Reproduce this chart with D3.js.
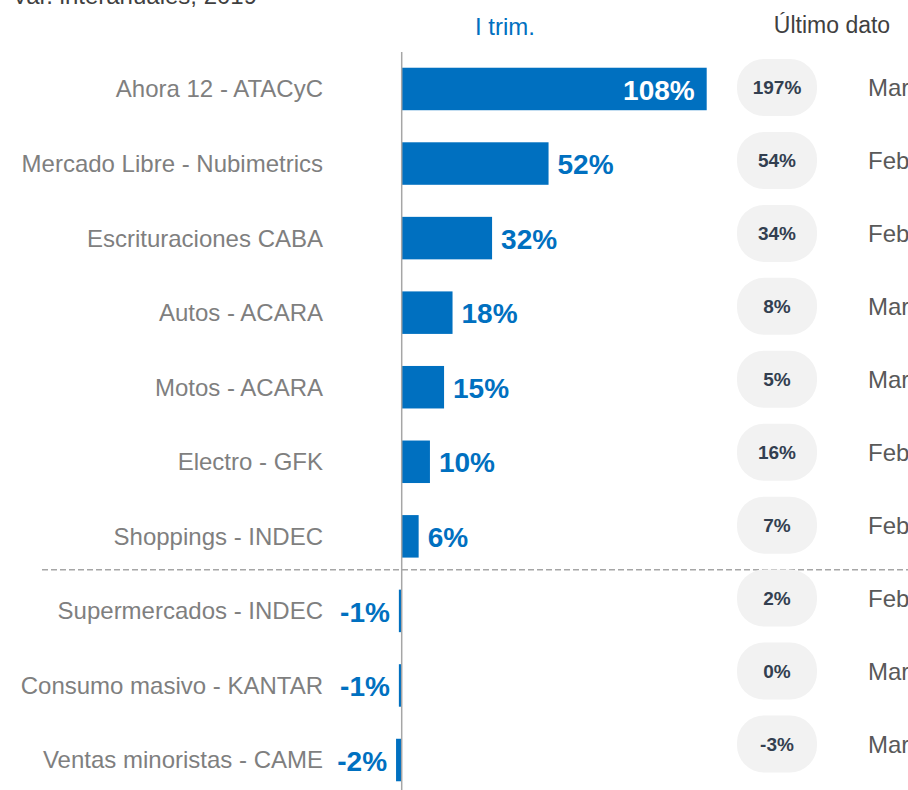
<!DOCTYPE html>
<meta charset="utf-8">
<script src="https://d3js.org/d3.v7.min.js"></script>
<style>
  body { margin: 0; background: #fff; }
  svg text { font-family: "Liberation Sans", Arial, sans-serif; }
</style>
<body>
<div id="chart"></div>
<script>
// data
var categories = [
  "Ahora 12 - ATACyC",
  "Mercado Libre - Nubimetrics",
  "Escrituraciones CABA",
  "Autos - ACARA",
  "Motos - ACARA",
  "Electro - GFK",
  "Shoppings - INDEC",
  "Supermercados - INDEC",
  "Consumo masivo - KANTAR",
  "Ventas minoristas - CAME"
];
var quarterValues = [108, 52, 32, 18, 15, 10, 6, -1, -1, -2];
var lastValues = [197, 54, 34, 8, 5, 16, 7, 2, 0, -3];
var lastMonths = ["Mar", "Feb", "Feb", "Mar", "Mar", "Feb", "Feb", "Feb", "Mar", "Mar"];

var width = 908, height = 790;
var blue = "#0070c0";

var svg = d3.select("#chart").append("svg")
  .attr("width", width)
  .attr("height", height);

// scales
var x = d3.scaleLinear().domain([0, 108]).range([401.7, 706.7]);
var y = d3.scaleBand().domain(categories)
  .range([51.7, 797.3])
  .paddingInner(0.43)
  .paddingOuter(0.215);
// the right-hand column sits on its own spacing
var yLast = d3.scalePoint().domain(categories).range([87.5, 744]);

var rows = categories.map(function (c, i) {
  return { cat: c, q: quarterValues[i], last: lastValues[i], month: lastMonths[i] };
});

// title (cut off at the top in the original)
svg.append("text")
  .attr("x", 12)
  .attr("y", 4)
  .style("font-size", "24px")
  .style("fill", "#404040")
  .text("Var. interanuales, 2019");

// headers
svg.append("text")
  .attr("x", 505)
  .attr("y", 35)
  .attr("text-anchor", "middle")
  .style("font-size", "24px")
  .style("fill", blue)
  .text("I trim.");

svg.append("text")
  .attr("x", 832)
  .attr("y", 33)
  .attr("text-anchor", "middle")
  .style("font-size", "23px")
  .style("fill", "#404040")
  .text("Último dato");

// separator between groups
var sepY = y(categories[7]) - 20;
svg.append("line")
  .attr("x1", 42).attr("x2", width)
  .attr("y1", sepY).attr("y2", sepY)
  .attr("stroke", "#a6a6a6")
  .attr("stroke-width", 1.5)
  .attr("stroke-dasharray", "6,3");

// bars
svg.append("g").selectAll("rect")
  .data(rows)
  .enter()
  .append("rect")
  .attr("x", function (d) { return Math.min(x(0), x(d.q)); })
  .attr("y", function (d) { return y(d.cat); })
  .attr("width", function (d) { return Math.abs(x(d.q) - x(0)); })
  .attr("height", y.bandwidth())
  .attr("fill", blue);

// zero line
svg.append("line")
  .attr("x1", x(0)).attr("x2", x(0))
  .attr("y1", 52).attr("y2", height)
  .attr("stroke", "#a6a6a6")
  .attr("stroke-width", 1.5);

// category labels
svg.append("g").selectAll("text")
  .data(rows)
  .enter()
  .append("text")
  .attr("x", 323)
  .attr("y", function (d) { return y(d.cat) + y.bandwidth() / 2; })
  .attr("dy", "0.35em")
  .attr("text-anchor", "end")
  .style("font-size", "24px")
  .style("fill", "#7f7f7f")
  .text(function (d) { return d.cat; });

// value labels
svg.append("g").selectAll("text")
  .data(rows)
  .enter()
  .append("text")
  .attr("x", function (d) {
    if (d.q >= 100) return x(d.q) - 12;
    return d.q >= 0 ? x(d.q) + 9 : x(d.q) - 9;
  })
  .attr("y", function (d) { return y(d.cat) + y.bandwidth() / 2; })
  .attr("dy", "0.38em")
  .attr("text-anchor", function (d) { return (d.q >= 100 || d.q < 0) ? "end" : "start"; })
  .style("font-size", "28px")
  .style("font-weight", "bold")
  .style("fill", function (d) { return d.q >= 100 ? "#fff" : blue; })
  .text(function (d) { return d.q + "%"; });

// last data pills
var pills = svg.append("g").selectAll("g")
  .data(rows)
  .enter()
  .append("g")
  .attr("transform", function (d) { return "translate(777," + yLast(d.cat) + ")"; });

pills.append("rect")
  .attr("x", -40).attr("y", -28.5)
  .attr("width", 80).attr("height", 57)
  .attr("rx", 27).attr("ry", 27)
  .attr("fill", "#f2f2f2");

pills.append("text")
  .attr("text-anchor", "middle")
  .attr("dy", "0.36em")
  .style("font-size", "19px")
  .style("font-weight", "bold")
  .style("fill", "#333f50")
  .text(function (d) { return d.last + "%"; });

pills.append("text")
  .attr("x", 91)
  .attr("dy", "0.36em")
  .style("font-size", "24px")
  .style("fill", "#595959")
  .text(function (d) { return d.month; });
</script>
</body>
